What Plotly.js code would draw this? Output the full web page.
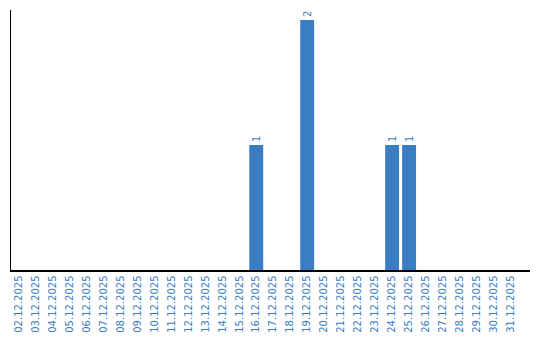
<!DOCTYPE html>
<html>
<head>
<meta charset="utf-8">
<script src="https://cdn.plot.ly/plotly-3.0.1.min.js"></script>
<style>html,body{margin:0;padding:0;background:#fff;}#chart{width:540px;height:340px;}</style>
</head>
<body>
<div id="chart"></div>
<script>
const dates = ["02.12.2025","03.12.2025","04.12.2025","05.12.2025","06.12.2025","07.12.2025","08.12.2025","09.12.2025","10.12.2025","11.12.2025","12.12.2025","13.12.2025","14.12.2025","15.12.2025","16.12.2025","17.12.2025","18.12.2025","19.12.2025","20.12.2025","21.12.2025","22.12.2025","23.12.2025","24.12.2025","25.12.2025","26.12.2025","27.12.2025","28.12.2025","29.12.2025","30.12.2025","31.12.2025"];
const counts = [0,0,0,0,0,0,0,0,0,0,0,0,0,0,1,0,0,2,0,0,0,0,1,1,0,0,0,0,0,0];
const labels = counts.map(v => v > 0 ? String(v) : "");

const blue = "#3a7dc2";
Plotly.newPlot("chart", [{
  type: "bar",
  x: dates,
  y: counts,
  text: labels,
  textposition: "outside",
  textangle: -90,
  cliponaxis: false,
  textfont: {family: "DejaVu Sans", size: 10, color: blue},
  marker: {color: blue},
  hoverinfo: "none"
}], {
  width: 540, height: 340,
  margin: {l: 11, r: 10, t: 10, b: 70},
  paper_bgcolor: "#fff", plot_bgcolor: "#fff",
  bargap: 0.18,
  showlegend: false,
  font: {family: "DejaVu Sans", size: 10, color: blue},
  xaxis: {
    type: "category",
    range: [-0.44, 30.12],
    showline: true, linecolor: "#000", linewidth: 1.5,
    showgrid: false, zeroline: false, ticks: "",
    tickangle: -90,
    tickfont: {family: "DejaVu Sans", size: 10, color: blue}
  },
  yaxis: {
    range: [0, 2.08],
    showline: true, linecolor: "#000", linewidth: 1.5,
    showgrid: false, zeroline: false, ticks: "", showticklabels: false
  }
}, {staticPlot: true});
</script>
</body>
</html>
